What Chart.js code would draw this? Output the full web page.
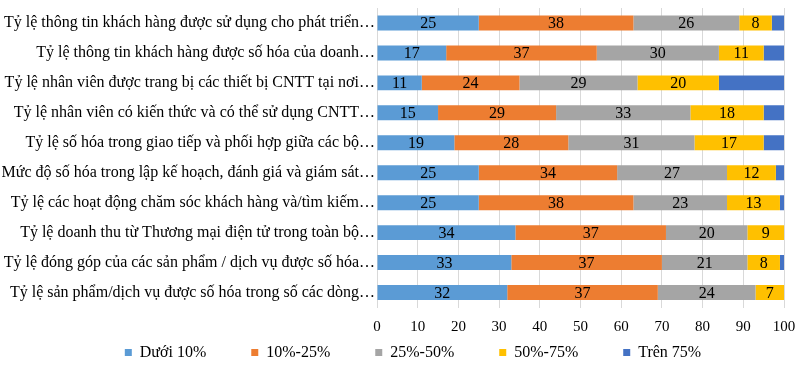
<!DOCTYPE html>
<html>
<head>
<meta charset="utf-8">
<script src="https://cdn.jsdelivr.net/npm/chart.js@4"></script>
<style>
html,body{margin:0;padding:0;background:#fff;}
#wrap{width:800px;height:369px;position:relative;}
</style>
</head>
<body>
<div id="wrap"><canvas id="c"></canvas></div>
<script>
const categories = [
  "Tỷ lệ thông tin khách hàng được sử dụng cho phát triển…",
  "Tỷ lệ thông tin khách hàng được số hóa của doanh…",
  "Tỷ lệ nhân viên được trang bị các thiết bị CNTT tại nơi…",
  "Tỷ lệ nhân viên có kiến thức và có thể sử dụng CNTT…",
  "Tỷ lệ số hóa trong giao tiếp và phối hợp giữa các bộ…",
  "Mức độ số hóa trong lập kế hoạch, đánh giá và giám sát…",
  "Tỷ lệ các hoạt động chăm sóc khách hàng và/tìm kiếm…",
  "Tỷ lệ doanh thu từ Thương mại điện tử trong toàn bộ…",
  "Tỷ lệ đóng góp của các sản phẩm / dịch vụ được số hóa…",
  "Tỷ lệ sản phẩm/dịch vụ được số hóa trong số các dòng…"
];
const seriesNames = ["Dưới 10%", "10%-25%", "25%-50%", "50%-75%", "Trên 75%"];
const under10    = [25, 17, 11, 15, 19, 25, 25, 34, 33, 32];
const from10to25 = [38, 37, 24, 29, 28, 34, 38, 37, 37, 37];
const from25to50 = [26, 30, 29, 33, 31, 27, 23, 20, 21, 24];
const from50to75 = [8, 11, 20, 18, 17, 12, 13, 9, 8, 7];
const over75     = [3, 5, 16, 5, 5, 2, 1.5, 0.6, 1, 0.4];
const xTicks = [0, 10, 20, 30, 40, 50, 60, 70, 80, 90, 100];

const colors = ["#5B9BD5", "#ED7D31", "#A5A5A5", "#FFC000", "#4472C4"];
const seriesData = [under10, from10to25, from25to50, from50to75, over75];
const FONT = "'Liberation Serif', 'Times New Roman', serif";
const LEGEND_PAD = 45;
const LEGEND_FONT = 16;

const labelPlugin = {
  id: 'segLabels',
  afterDatasetsDraw(chart) {
    const ctx = chart.ctx;
    ctx.save();
    ctx.font = "16px " + FONT;
    ctx.fillStyle = "#000";
    ctx.textAlign = "center";
    ctx.textBaseline = "middle";
    chart.data.datasets.forEach((ds, di) => {
      if (di === 4) return;
      const meta = chart.getDatasetMeta(di);
      meta.data.forEach((bar, i) => {
        const p = bar.getProps(['x', 'y', 'base'], true);
        const cx = (p.x + p.base) / 2;
        ctx.fillText(String(ds.data[i]), cx, p.y + 1);
      });
    });
    ctx.restore();
  }
};

// keep the legend compact vertically while keeping wide horizontal spacing
const legendFix = {
  id: 'legendFix',
  beforeLayout(chart) {
    const lg = chart.legend;
    if (lg && !lg.__fixed) {
      const ofit = lg.fit;
      lg.fit = function () { ofit.call(this); this.height = 30; };
      const odraw = lg.draw;
      lg.draw = function () {
        const t = this.top, b = this.bottom, l = this.left, r = this.right;
        const shift = 352.5 - (t + LEGEND_PAD + LEGEND_FONT / 2);
        this.top = t + shift;
        this.bottom = this.chart.height;
        this.left = l + 21;
        this.right = r + 21;
        odraw.apply(this, arguments);
        this.top = t; this.bottom = b; this.left = l; this.right = r;
      };
      lg.__fixed = true;
    }
  }
};

new Chart(document.getElementById('c'), {
  type: 'bar',
  data: {
    labels: categories,
    datasets: seriesData.map((d, i) => ({
      label: seriesNames[i],
      data: d,
      backgroundColor: colors[i],
      borderWidth: 0,
      barPercentage: 0.5,
      categoryPercentage: 1.0
    }))
  },
  options: {
    indexAxis: 'y',
    responsive: true,
    maintainAspectRatio: false,
    animation: false,
    layout: { padding: { left: 0, right: 16, top: 8, bottom: 0 } },
    scales: {
      x: {
        stacked: true,
        min: 0, max: 100,
        afterBuildTicks(scale) { scale.ticks = xTicks.map(v => ({ value: v })); },
        afterFit(scale) { scale.height = 31.5; scale.paddingLeft = 0; scale.paddingRight = 0; },
        grid: { color: "#D9D9D9", lineWidth: 1, drawTicks: false },
        border: { display: false },
        ticks: { font: { family: FONT, size: 15 }, color: "#000", padding: 11 }
      },
      y: {
        stacked: true,
        afterFit(scale) { scale.width = 377; scale.paddingTop = 0; scale.paddingBottom = 0; },
        grid: { display: false, drawTicks: false },
        border: { display: false },
        ticks: { font: { family: FONT, size: 16 }, color: "#000", padding: 2, autoSkip: false }
      }
    },
    plugins: {
      legend: {
        position: 'bottom',
        labels: {
          font: { family: FONT, size: LEGEND_FONT },
          color: "#000",
          boxWidth: 7,
          boxHeight: 7,
          padding: LEGEND_PAD
        }
      },
      tooltip: { enabled: false }
    }
  },
  plugins: [labelPlugin, legendFix]
});
</script>
</body>
</html>
